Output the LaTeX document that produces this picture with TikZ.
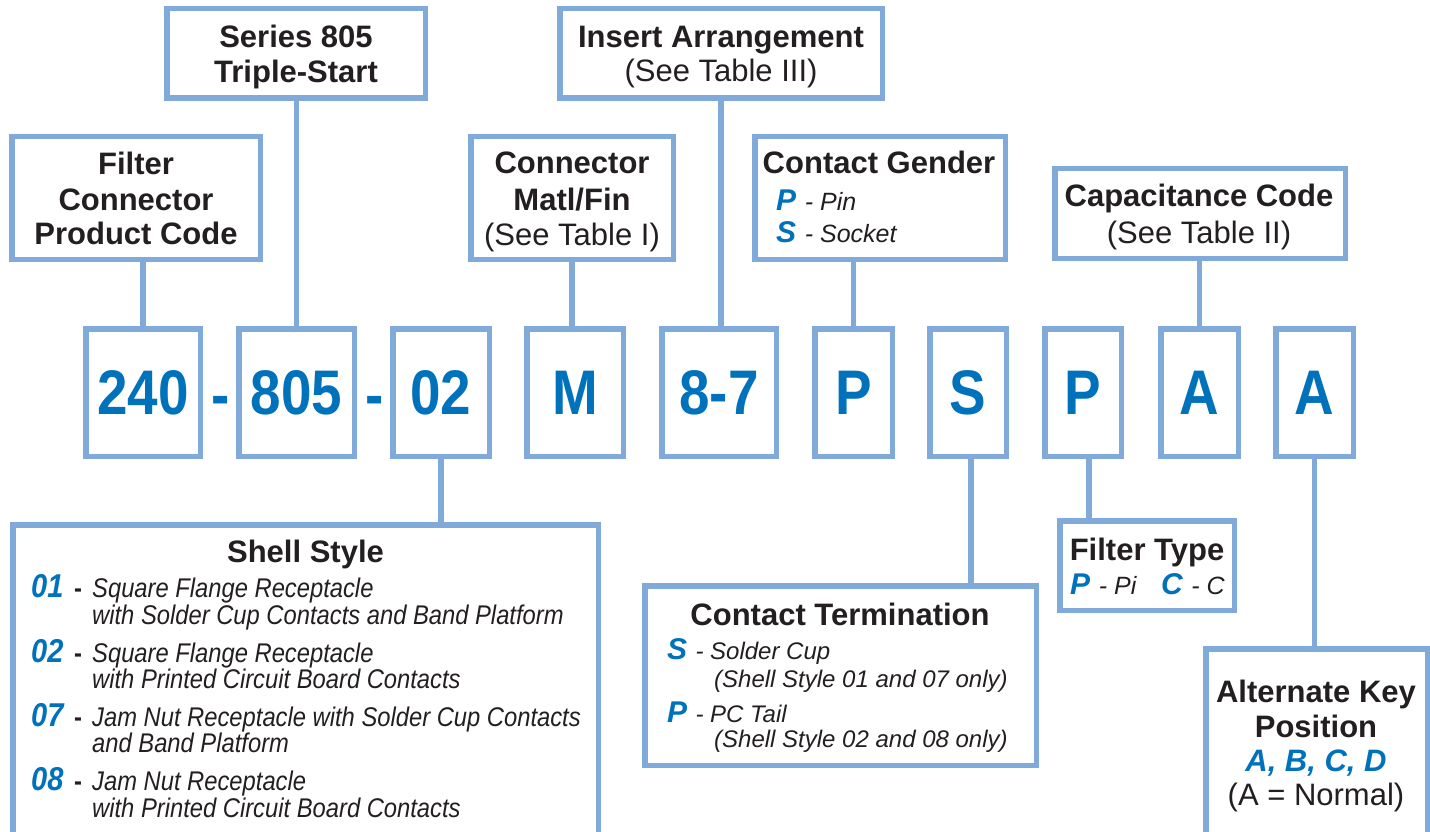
\documentclass[tikz,border=0pt]{standalone}
\usepackage{fontspec}
\setmainfont{Liberation Sans}
\newfontfamily\CodeFam[FakeStretch=0.87]{Liberation Sans}
\newfontfamily\NarrowFam[FakeStretch=0.88]{Liberation Sans}
\definecolor{bord}{HTML}{80AADA}
\definecolor{codeblue}{HTML}{0072BC}
\definecolor{ink}{HTML}{231F20}
\newcommand\HdB{\fontsize{31}{35}\selectfont\bfseries}
\newcommand\HdR{\fontsize{31}{35}\selectfont}
\newcommand\DscI{\fontsize{25}{28}\selectfont\itshape}
\newcommand\TrmI{\fontsize{24}{28}\selectfont\itshape}
\newcommand\BlueL{\fontsize{30}{30}\selectfont\bfseries\itshape\color{codeblue}}
\newcommand\ShellI{\NarrowFam\fontsize{27}{30}\selectfont\itshape}
\newcommand\ShellN{\NarrowFam\fontsize{33}{34}\selectfont\bfseries\itshape}
\newcommand\CodeF{\CodeFam\fontsize{63}{63}\selectfont\bfseries}
\tikzset{
  box/.style={draw=bord, line width=5.5pt, rectangle, inner sep=0pt},
  code/.style={box, minimum height=127.5pt, text=codeblue, font=\CodeF},
  conn/.style={draw=bord, line width=5.5pt},
  txt/.style={inner sep=0pt, text=ink, anchor=base},
  txtl/.style={inner sep=0pt, text=ink, anchor=base west},
  num/.style={txtl, text=codeblue, font=\ShellN},
  dsh/.style={txtl, font=\NarrowFam\fontsize{27}{30}\selectfont\bfseries},
}
\begin{document}
\begin{tikzpicture}[x=1pt,y=-1pt]
\clip (0,0) rectangle (1430,832);
\fill[white] (0,0) rectangle (1430,832);
% top boxes
\node[box, minimum width=248.5pt, minimum height=122.5pt] (pc) at (136,198) {};
\node[box, minimum width=258.5pt, minimum height=89.5pt] (ser) at (296,53.5) {};
\node[box, minimum width=322.5pt, minimum height=89.5pt] (ins) at (721,53.5) {};
\node[box, minimum width=202.5pt, minimum height=122.5pt] (mat) at (572,198) {};
\node[box, minimum width=250.5pt, minimum height=122.5pt] (gen) at (880,198) {};
\node[box, minimum width=290.5pt, minimum height=89.5pt] (cap) at (1200,213.5) {};
% code boxes
\node[code, minimum width=114.5pt] (c240) at (143,392.5) {240};
\node[code, minimum width=115.5pt] (c805) at (296.5,392.5) {805};
\node[code, minimum width=96.5pt] (c02) at (441,392.5) {02};
\node[code, minimum width=96.5pt] (cM) at (575,392.5) {M};
\node[code, minimum width=114.5pt] (c87) at (719,392.5) {8-7};
\node[code, minimum width=77.5pt] (cP) at (853.5,392.5) {P};
\node[code, minimum width=76.5pt] (cS) at (968,392.5) {S};
\node[code, minimum width=76.5pt] (cF) at (1083,392.5) {P};
\node[code, minimum width=77.5pt] (cA) at (1199.5,392.5) {A};
\node[code, minimum width=77.5pt] (cK) at (1314.5,392.5) {A};
\node[inner sep=0pt, anchor=base, text=codeblue, font=\CodeF] (h1) at (221,416) {-};
\node[inner sep=0pt, anchor=base, text=codeblue, font=\CodeF] (h2) at (375,416) {-};
% lower boxes
\node[box, minimum width=585.5pt, minimum height=332.5pt] (shell) at (305.5,691) {};
\node[box, minimum width=391.5pt, minimum height=179.5pt] (term) at (840.5,675.5) {};
\node[box, minimum width=174.5pt, minimum height=89.5pt] (ftype) at (1147,565.5) {};
\node[box, minimum width=221.5pt, minimum height=208.5pt] (alt) at (1316.5,753) {};
% connectors
\draw[conn] (pc.south -| c240.north) -- (c240.north);
\draw[conn] (ser.south -| c805.north) -- (c805.north);
\draw[conn] (mat.south) -- (mat.south |- cM.north);
\draw[conn] (ins.south) -- (ins.south |- c87.north);
\draw[conn] (gen.south -| cP.north) -- (cP.north);
\draw[conn] (cap.south -| cA.north) -- (cA.north);
\draw[conn] (c02.south) -- (c02.south |- shell.north);
\draw[conn] ([xshift=3pt]cS.south) -- ([xshift=3pt]cS.south |- term.north);
\draw[conn] ([xshift=6pt]cF.south) -- ([xshift=6pt]cF.south |- ftype.north);
\draw[conn] (cK.south) -- (cK.south |- alt.north);
% texts: product code
\node[txt, font=\HdB] (pc1) at (136,175) {Filter};
\node[txt, font=\HdB] (pc2) at (136,210) {Connector};
\node[txt, font=\HdB] (pc3) at (136,244) {Product Code};
% series
\node[txt, font=\HdB] (se1) at (296,48) {Series 805};
\node[txt, font=\HdB] (se2) at (296,83) {Triple-Start};
% insert
\node[txt, font=\HdB] (in1) at (721,48) {Insert Arrangement};
\node[txt, font=\HdR] (in2) at (721,82) {(See Table III)};
% material
\node[txt, font=\HdB] (ma1) at (572,174) {Connector};
\node[txt, font=\HdB] (ma2) at (572,210) {Matl/Fin};
\node[txt, font=\HdR] (ma3) at (572,245) {(See Table I)};
% gender
\node[txt, font=\HdB] (ge1) at (879,174) {Contact Gender};
\node[txtl] (ge2) at (776,210) {{\BlueL P}\,{\DscI{} - Pin}};
\node[txtl] (ge3) at (776,242) {{\BlueL S}\,{\DscI{} - Socket}};
% capacitance
\node[txt, font=\HdB] (ca1) at (1199,207) {Capacitance Code};
\node[txt, font=\HdR] (ca2) at (1199,243) {(See Table II)};
% shell style
\node[txt, font=\HdB] (sh0) at (305.5,562) {Shell Style};
\node[num] (n01) at (31,597) {01};
\node[dsh] (d01) at (74,597) {-};
\node[txtl, font=\ShellI] (s01a) at (92,597) {Square Flange Receptacle};
\node[txtl, font=\ShellI] (s01b) at (92,624) {with Solder Cup Contacts and Band Platform};
\node[num] (n02) at (31,662) {02};
\node[dsh] (d02) at (74,662) {-};
\node[txtl, font=\ShellI] (s02a) at (92,662) {Square Flange Receptacle};
\node[txtl, font=\ShellI] (s02b) at (92,688) {with Printed Circuit Board Contacts};
\node[num] (n07) at (31,726) {07};
\node[dsh] (d07) at (74,726) {-};
\node[txtl, font=\ShellI] (s07a) at (92,726) {Jam Nut Receptacle with Solder Cup Contacts};
\node[txtl, font=\ShellI] (s07b) at (92,752) {and Band Platform};
\node[num] (n08) at (31,790) {08};
\node[dsh] (d08) at (74,790) {-};
\node[txtl, font=\ShellI] (s08a) at (92,790) {Jam Nut Receptacle};
\node[txtl, font=\ShellI] (s08b) at (92,817) {with Printed Circuit Board Contacts};
% contact termination
\node[txt, font=\HdB] (te0) at (840,625) {Contact Termination};
\node[txtl] (te1) at (667,659) {{\fontsize{30}{30}\selectfont\bfseries\itshape\color{codeblue}S}\,{\TrmI{} - Solder Cup}};
\node[txtl, font=\TrmI] (te2) at (714,687) {(Shell Style 01 and 07 only)};
\node[txtl] (te3) at (667,722) {{\fontsize{30}{30}\selectfont\bfseries\itshape\color{codeblue}P}\,{\TrmI{} - PC Tail}};
\node[txtl, font=\TrmI] (te4) at (714,747) {(Shell Style 02 and 08 only)};
% filter type
\node[txt, font=\HdB] (ft0) at (1147,560) {Filter Type};
\node[txtl] (ft1) at (1070,594) {{\BlueL P}\,{\DscI{} - Pi}};
\node[txtl] (ft2) at (1161,594) {{\BlueL C}\,{\DscI{} - C}};
% alternate key
\node[txt, font=\HdB] (ak1) at (1316,702) {Alternate Key};
\node[txt, font=\HdB] (ak2) at (1316,737) {Position};
\node[txt, font=\HdB\itshape, text=codeblue] (ak3) at (1316,771) {A, B, C, D};
\node[txt, font=\HdR] (ak4) at (1316,805) {(A = Normal)};
\end{tikzpicture}
\end{document}
